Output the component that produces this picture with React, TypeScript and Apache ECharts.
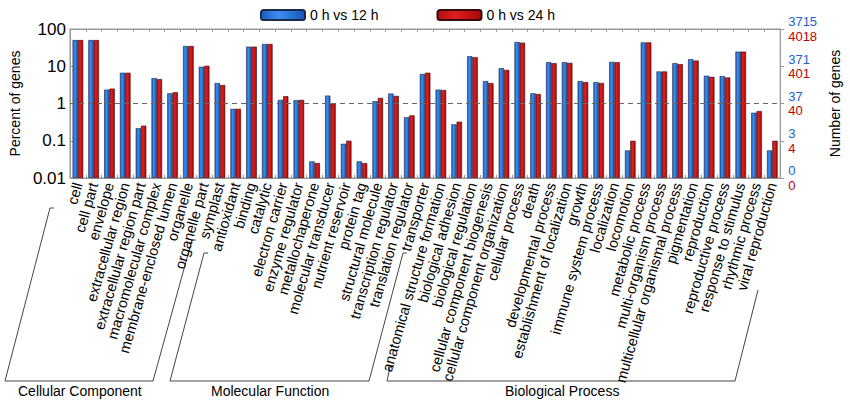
import React, { useEffect, useRef } from "react";
import * as echarts from "echarts";

const categories = [
  "cell", "cell part", "envelope", "extracellular region", "extracellular region part",
  "macromolecular complex", "membrane-enclosed lumen", "organelle", "organelle part", "symplast",
  "antioxidant", "binding", "catalytic", "electron carrier", "enzyme regulator",
  "metallochaperone", "molecular transducer", "nutrient reservoir", "protein tag",
  "structural molecule", "transcription regulator", "translation regulator", "transporter",
  "anatomical structure formation", "biological adhesion", "biological regulation",
  "cellular component biogenesis", "cellular component organization", "cellular process",
  "death", "developmental process", "establishment of localization", "growth",
  "immune system process", "localization", "locomotion", "metabolic process",
  "multi-organism process", "multicellular organismal process", "pigmentation",
  "reproduction", "reproductive process", "response to stimulus", "rhythmic process",
  "viral reproduction",
];

const pct12h = [
  50.5, 50.5, 2.36, 6.7, 0.216, 4.8, 1.88, 35, 9.7, 3.55,
  0.72, 33.6, 39.5, 1.25, 1.23, 0.028, 1.63, 0.083, 0.028, 1.15, 1.85, 0.43, 6.2,
  2.36, 0.276, 18.6, 4.0, 8.9, 44.7, 1.88, 12.9, 12.9, 4.0, 3.77, 13.1, 0.055, 43.8,
  7.25, 12.1, 15.5, 5.56, 5.45, 24.7, 0.565, 0.055,
];

const pct24h = [
  50.5, 50.5, 2.51, 6.7, 0.254, 4.5, 2.0, 35, 10.3, 3.14,
  0.72, 33.6, 39.5, 1.57, 1.25, 0.0253, 0.98, 0.1, 0.025, 1.41, 1.6, 0.48, 6.7,
  2.3, 0.325, 17.5, 3.55, 8.0, 43, 1.8, 12.1, 12.3, 3.77, 3.55, 12.9, 0.1, 43.8,
  7.25, 11.4, 14.2, 5.2, 5.0, 24.7, 0.625, 0.1,
];

const leftTickLabels = ["0.01", "0.1", "1", "10", "100"];
const rightBlueLabels = ["0", "3", "37", "371", "3715"];
const rightRedLabels = ["0", "4", "40", "401", "4018"];
const seriesNames = ["0 h vs 12 h", "0 h vs 24 h"];
const groupNames = ["Cellular Component", "Molecular Function", "Biological Process"];

const FONT = "Arial, 'Liberation Sans', sans-serif";
const BLUE_TEXT = "#1c5fd4";
const RED_TEXT = "#c00000";

export default function App() {
  const ref = useRef<HTMLDivElement>(null);

  useEffect(() => {
    document.body.style.margin = "0";
    if (!ref.current) return;
    const chart = echarts.init(ref.current, undefined, { renderer: "svg" });

    const blueFill = new echarts.graphic.LinearGradient(0, 0, 1, 0, [
      { offset: 0, color: "#1a5cc0" },
      { offset: 0.4, color: "#3d8ef0" },
      { offset: 1, color: "#1655b5" },
    ]);
    const redFill = new echarts.graphic.LinearGradient(0, 0, 1, 0, [
      { offset: 0, color: "#b20e0e" },
      { offset: 0.4, color: "#e01e1e" },
      { offset: 1, color: "#a50a0a" },
    ]);

    const grayAxis = { lineStyle: { color: "#999", width: 1 } };
    const stroke = { stroke: "#444", lineWidth: 1, fill: null };

    chart.setOption({
      animation: false,
      textStyle: { fontFamily: FONT },
      legend: {
        left: 255,
        top: 3,
        itemWidth: 44,
        itemHeight: 10,
        itemGap: 58,
        textStyle: { fontSize: 14, color: "#000", fontFamily: FONT },
        data: seriesNames,
      },
      grid: { left: 47, right: 56, top: 29, bottom: 225, show: true, borderColor: "#999", borderWidth: 1 },
      xAxis: [
        {
          type: "category",
          data: categories,
          position: "bottom",
          axisLine: grayAxis,
          axisTick: { show: true, inside: true, length: 3, interval: 0, lineStyle: { color: "#999" } },
          axisLabel: { interval: 0, rotate: 74, fontSize: 14.6, color: "#000", margin: 5, fontFamily: FONT },
        },
        {
          type: "category",
          data: categories,
          position: "top",
          axisLine: grayAxis,
          axisTick: { show: true, inside: true, length: 3, interval: 0, lineStyle: { color: "#999" } },
          axisLabel: { show: false },
        },
      ],
      yAxis: [
        {
          type: "log",
          logBase: 10,
          min: 0.01,
          max: 100,
          startValue: 0.01,
          position: "left",
          name: "Percent of genes",
          nameLocation: "middle",
          nameRotate: 90,
          nameGap: 31,
          nameTextStyle: { fontSize: 14, color: "#000", fontFamily: FONT },
          axisLine: { show: true, lineStyle: { color: "#999" } },
          axisTick: { show: true, inside: true, length: 3, lineStyle: { color: "#999" } },
          axisLabel: {
            fontSize: 17,
            color: "#000",
            margin: 4,
            fontFamily: FONT,
            formatter: (_v: number, i: number) => leftTickLabels[i] ?? "",
          },
          splitLine: { show: false },
          minorTick: { show: false },
        },
        {
          type: "log",
          logBase: 10,
          min: 0.01,
          max: 100,
          startValue: 0.01,
          position: "right",
          name: "Number of genes",
          nameLocation: "middle",
          nameRotate: 90,
          nameGap: 37,
          nameTextStyle: { fontSize: 14, color: "#000", fontFamily: FONT },
          axisLine: { show: true, lineStyle: { color: "#999" } },
          axisTick: { show: true, inside: false, length: 4, lineStyle: { color: "#999" } },
          axisLabel: {
            margin: 8,
            formatter: (_v: number, i: number) =>
              `{b|${rightBlueLabels[i] ?? ""}}\n{r|${rightRedLabels[i] ?? ""}}`,
            rich: {
              b: { color: BLUE_TEXT, fontSize: 13, lineHeight: 14.5, fontFamily: FONT },
              r: { color: RED_TEXT, fontSize: 13, lineHeight: 14.5, fontFamily: FONT },
            },
          },
          splitLine: { show: false },
        },
      ],
      series: [
        {
          name: seriesNames[0],
          type: "bar",
          data: pct12h,
          barWidth: 5.3,
          barGap: "0%",
          itemStyle: { color: blueFill, borderColor: "#1b2a4a", borderWidth: 0.6 },
          markLine: {
            silent: true,
            symbol: ["none", "none"],
            label: { show: false },
            lineStyle: { type: [5, 4], color: "#666", width: 1 },
            data: [{ yAxis: 1 }],
          },
        },
        {
          name: seriesNames[1],
          type: "bar",
          data: pct24h,
          barWidth: 5.3,
          barGap: "0%",
          itemStyle: { color: redFill, borderColor: "#3a0a0a", borderWidth: 0.6 },
        },
      ],
      graphic: [
        { type: "polyline", shape: { points: [[54, 208], [50, 208], [5, 381], [153, 381], [192, 240], [196, 240]] }, style: stroke },
        { type: "polyline", shape: { points: [[208, 253], [204, 253], [170, 381], [369, 381], [403, 253], [407, 253]] }, style: stroke },
        { type: "polyline", shape: { points: [[394, 367], [390, 367], [387, 381], [735, 381], [758, 290]] }, style: stroke },
        { type: "text", left: 18, top: 384, style: { text: groupNames[0], fontSize: 14, fill: "#000", fontFamily: FONT } },
        { type: "text", left: 211, top: 384, style: { text: groupNames[1], fontSize: 14, fill: "#000", fontFamily: FONT } },
        { type: "text", left: 505, top: 384, style: { text: groupNames[2], fontSize: 14, fill: "#000", fontFamily: FONT } },
      ],
    });

    return () => chart.dispose();
  }, []);

  return <div ref={ref} style={{ width: 850, height: 403 }} />;
}
